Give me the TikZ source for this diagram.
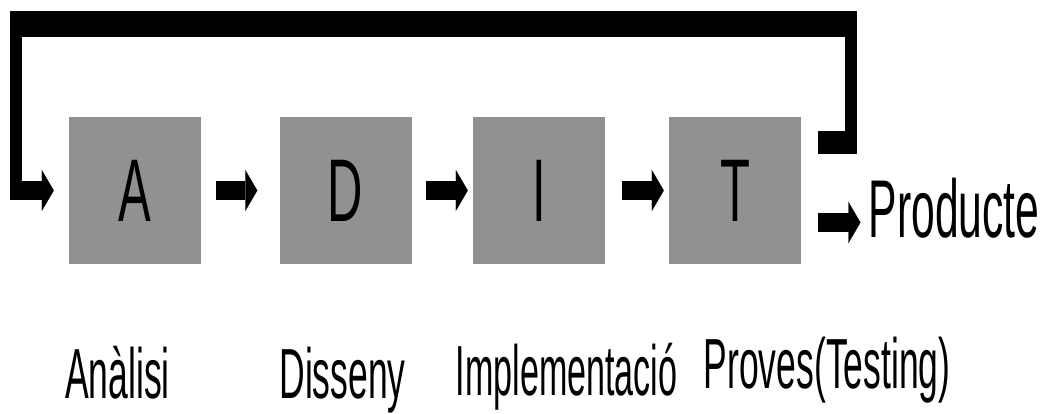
\documentclass[tikz,border=0pt]{standalone}
\usepackage{fontspec}
\setmainfont{Liberation Sans}
\usetikzlibrary{arrows.meta}
\definecolor{boxgray}{RGB}{145,145,145}
\newcommand{\slim}[2][0.5]{\scalebox{#1}[1]{#2}}
\tikzset{
  phase/.style={fill=boxgray, minimum width=132pt, minimum height=147pt, inner sep=0pt, font=\fontsize{89}{89}\selectfont},
  flow/.style={line width=19pt, -{Triangle[length=12pt,width=41pt,line width=0.1pt]}},
  stage/.style={inner sep=0pt, anchor=base, font=\fontsize{71}{71}\selectfont}
}
\begin{document}
\begin{tikzpicture}[x=1pt, y=-1pt]
\useasboundingbox (0,0) rectangle (1047,414);
        \node[phase] (A) at (135,190.5) {\slim[0.55]{A}};
        \node[phase] (D) at (345.5,190.5) {\slim[0.55]{D}};
        \node[phase] (I) at (539,190.5) {\slim[0.55]{I}};
        \node[phase] (T) at (735,190.5) {\slim[0.55]{T}};

        \node[stage] (an) at (117.5,398) {\slim{Anàlisi}};
        \node[stage] (di) at (342.5,398) {\slim{Disseny}};
        \node[stage] (im) at (566.5,395) {\slim[0.48]{Implementació}};
        \node[stage] (pr) at (827,388) {\slim{Proves(Testing)}};
        \node[stage, font=\fontsize{82}{82}\selectfont] (P) at (954,237) {\slim[0.52]{Producte}};

        \coordinate (back) at (818,142.5);
        \coordinate (loopin) at (10,190.5);
        \coordinate (out) at (818,222.5);

        % Edge
        \draw[flow, shorten <=15pt, shorten >=22pt] (A.east) -- (D.west);
        \draw[flow, shorten <=14pt, shorten >=5pt] (D.east) -- (I.west);
        \draw[flow, shorten <=17pt, shorten >=5pt] (I.east) -- (T.west);
        \draw[flow, shorten >=8pt] (out) -- (out -| P.west);

        % feedback loop
        \draw[line width=23pt] (back) -- (857,142.5);
        \draw[line width=12pt] (851,154) -- (851,11);
        \draw[line width=26pt] (10,24) -- (857,24);
        \draw[line width=12pt] (16,11) -- (16,200);
        \draw[flow, shorten >=15pt] (loopin) -- (A.west);
\end{tikzpicture}
\end{document}
